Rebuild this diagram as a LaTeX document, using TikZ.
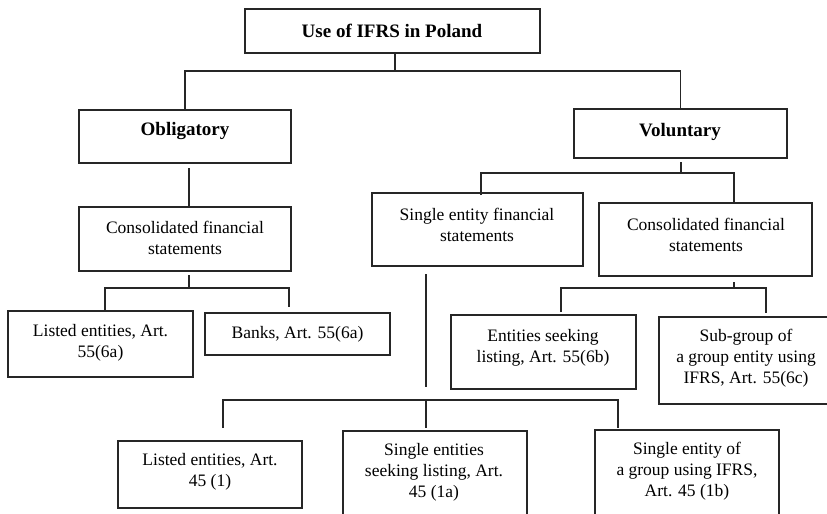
\documentclass[tikz,border=0pt]{standalone}
\usepackage{fontspec}
\setmainfont{Liberation Serif}
\usetikzlibrary{fit}
\begin{document}
\begin{tikzpicture}[x=0.5pt,y=-0.5pt,
  box/.style={draw=black!85, line width=0.6pt, inner sep=0pt, rectangle},
  txt/.style={align=center, font=\fontsize{8.75}{10.5}\selectfont, inner sep=0pt},
  btxt/.style={align=center, font=\fontsize{9.5}{11}\selectfont\bfseries, inner sep=0pt},
  conn/.style={draw=black!85, line width=0.6pt}]
\useasboundingbox (0,0) rectangle (827,514);
\clip (0,0) rectangle (827,514);

% boxes
\node[box, fit={(245,9) (540,53)}] (top) {};
\node[box, fit={(79,110) (291,163)}] (obl) {};
\node[box, fit={(574,109) (787,158)}] (vol) {};
\node[box, fit={(79,207) (291,271)}] (ocons) {};
\node[box, fit={(372,193) (583,266)}] (ose) {};
\node[box, fit={(599,203) (812,276)}] (vcons) {};
\node[box, fit={(8,311) (193,377)}] (ol) {};
\node[box, fit={(205,313) (390,355)}] (bk) {};
\node[box, fit={(451,315) (636,389)}] (es) {};
\node[box, fit={(659,317) (850,404)}] (sg) {};
\node[box, fit={(118,441) (302,508)}] (bl) {};
\node[box, fit={(343,431) (527,540)}] (bs) {};
\node[box, fit={(595,430) (779,540)}] (bg) {};

% texts
\node[btxt] (top-t) at (392,31) {Use of IFRS in Poland};
\node[btxt] (obl-t) at (185,131) {Obligatory};
\node[btxt] (vol-t) at (680,132) {Voluntary};
\node[txt] (ocons-t) at (185,238) {Consolidated financial\\statements};
\node[txt] (ose-t) at (477,225) {Single entity financial\\statements};
\node[txt] (vcons-t) at (706,234.5) {Consolidated financial\\statements};
\node[txt] (ol-t) at (100.5,342.5) {Listed entities, Art.\\55(6a)};
\node[txt] (bk-t) at (297.5,334) {Banks, Art. 55(6a)};
\node[txt] (es-t) at (543,347.5) {Entities seeking\\listing, Art. 55(6b)};
\node[txt] (sg-t) at (746,358) {Sub-group of\\a group entity using\\IFRS, Art. 55(6c)};
\node[txt] (bl-t) at (210,472) {Listed entities, Art.\\45 (1)};
\node[txt] (bs-t) at (434,472) {Single entities\\seeking listing, Art.\\45 (1a)};
\node[txt] (bg-t) at (687,471) {Single entity of\\a group using IFRS,\\Art. 45 (1b)};

% junction coordinates
\coordinate (j1) at (395,71);
\coordinate (o1) at (189,168);
\coordinate (o2) at (189,275);
\coordinate (o3) at (189,288);
\coordinate (oL) at (105,288);
\coordinate (oR) at (289,307);
\coordinate (v1) at (681,162);
\coordinate (v2) at (681,173);
\coordinate (vL) at (481,195);
\coordinate (vR) at (734,203);
\coordinate (c1) at (734,282);
\coordinate (c2) at (734,288);
\coordinate (cL) at (561,312);
\coordinate (cR) at (766,313);
\coordinate (s1) at (426,274);
\coordinate (s2) at (426,387);
\coordinate (s3) at (426,400);
\coordinate (sL) at (223,428);
\coordinate (sM) at (426,428);
\coordinate (sR) at (618,428);

% connectors
\draw[conn] (top.south -| j1) -- (j1);
\draw[conn] (obl.north) |- (j1) -| (vol.north);
\draw[conn] (o1) -- (o1 |- ocons.north);
\draw[conn] (o2) -- (o3);
\draw[conn] (oL |- ol.north) -- (oL) -- (oR |- o3) -- (oR);
\draw[conn] (v1) -- (v2);
\draw[conn] (vL) |- (v2) -| (vR);
\draw[conn] (c1) -- (c2);
\draw[conn] (cL) |- (c2) -| (cR);
\draw[conn] (s1) -- (s2);
\draw[conn] (sL) |- (s3) -| (sR);
\draw[conn] (s3) -- (sM);
\end{tikzpicture}
\end{document}
